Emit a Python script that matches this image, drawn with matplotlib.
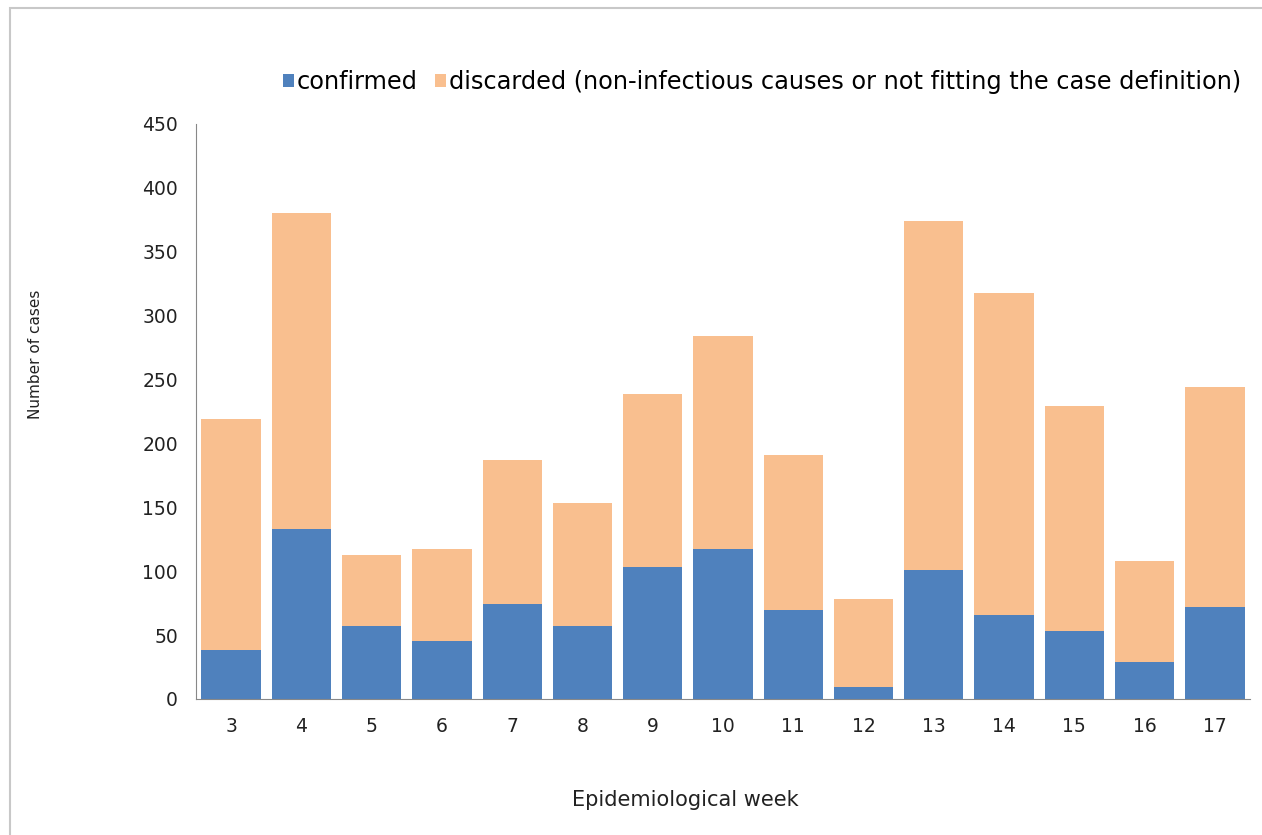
import numpy as np
import matplotlib.pyplot as plt
from matplotlib.patches import Rectangle

weeks = ['3', '4', '5', '6', '7', '8', '9', '10', '11', '12', '13', '14', '15', '16', '17']
confirmed = np.array([38, 133, 57, 45, 74, 57, 103, 117, 70, 9, 101, 66, 53, 29, 72])
discarded = np.array([181, 247, 56, 72, 113, 96, 136, 167, 121, 69, 273, 252, 176, 79, 172])

fig = plt.figure(figsize=(12.62, 8.35), dpi=100)
ax = fig.add_axes([0.1553, 0.1629, 0.8352, 0.6886])

# outer chart frame (cut off at right/bottom like the reference)
fig.patches.append(Rectangle((0.008, -0.1), 1.2, 1.09, transform=fig.transFigure,
                             fill=False, edgecolor='#c8c8c8', linewidth=1.5))

ind = np.arange(len(weeks))
width = 0.845
p1 = ax.bar(ind, confirmed, width, color='#4f81bd')
p2 = ax.bar(ind, discarded, width, bottom=confirmed, color='#f9bf8f')

ax.set_xlim(-0.5, len(weeks) - 0.5)
ax.set_ylim(0, 450)
ax.set_yticks(np.arange(0, 451, 50))
ax.set_xticks(ind)
ax.set_xticklabels(weeks)
ax.tick_params(length=0, labelsize=13.5, colors='#222222', pad=13)
ax.tick_params(axis='y', pad=13)
for s in ['top', 'right']:
    ax.spines[s].set_visible(False)
for s in ['left', 'bottom']:
    ax.spines[s].set_color('#888888')

ax.set_ylabel('Number of cases', fontsize=11, color='#222222')
ax.yaxis.set_label_coords(-0.145, 0.60)
ax.set_xlabel('Epidemiological week', fontsize=15, color='#222222')
ax.xaxis.set_label_coords(0.464, -0.158)

fig.legend((p1[0], p2[0]),
           ('confirmed', 'discarded (non-infectious causes or not fitting the case definition)'),
           loc='center left', bbox_to_anchor=(0.224, 0.902), ncol=2, frameon=False,
           handlelength=0.45, handleheight=0.45, handletextpad=0.15,
           columnspacing=0.7, borderpad=0, borderaxespad=0, fontsize=17.3)

fig.savefig('out.png', dpi=100)
